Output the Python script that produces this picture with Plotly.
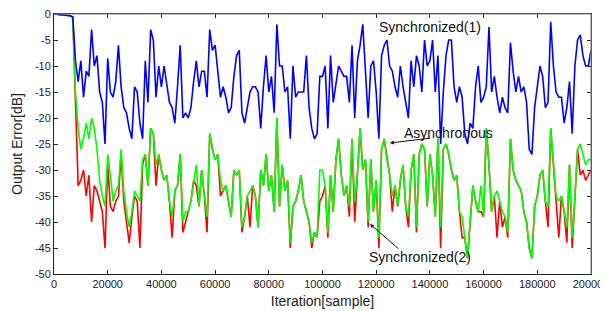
import plotly.graph_objects as go

# sample index grid (iterations, one point per 1000 samples)
iterations = list(range(0, 200001, 1000))

sync1 = [0, -0.05, -0.1, -0.15, -0.2, -0.25, -0.35, -0.6, -9, -13,
         -9, -16, -11, -12, -3, -10, -8, -15, -17, -25,
         -8.5, -15, -16, -13, -6, -14, -18, -19, -22, -24,
         -14, -15, -21, -24, -9, -17, -3, -5, -16, -10,
         -14, -10, -14, -17, -18, -21, -14, -6, -20, -19,
         -20, -18, -13, -9, -14, -11, -11, -16, -3, -7,
         -6, -11, -16, -14, -16, -19, -18, -12, -8, -7,
         -19, -21, -18, -15, -14, -14, -15, -22, -14, -8,
         -15, -12, -19, -2, -10, -10, -15, -14, -24, -10,
         -16, -15, -15, -15, -8, -18, -22, -24, -23, -12,
         -12, -10, -22, -8, -17, -13, -10, -11, -12, -12,
         -17, -6, -20, -9, -6, -2, -11, -20, -10, -9,
         -15, -24, -8, -6, -5, -10, -11, -14, -16, -10,
         -14, -17, -20, -9, -14, -8, -10, -15, -5, -10,
         -9, -5, -15, -8, -25, -15, -8, -5, -5, -14,
         -17, -14, -16, -23, -25, -21, -22, -14, -10, -17,
         -16, -14, -2.5, -15, -12, -16, -19, -16, -18, -19,
         -5.5, -11, -15, -12, -15, -14, -17, -26, -27, -18,
         -14, -10, -12, -18, -17, -1.5, -10, -15, -16, -16,
         -21, -18, -13, -23, -10, -5, -4, -8, -10, -10,
         -7]

asynchronous = [0, -0.05, -0.1, -0.15, -0.2, -0.25, -0.35, -0.6, -15, -22,
                -26, -24, -21, -24, -20, -22, -26, -32, -35, -37,
                -27, -31, -36, -34, -33, -26, -34, -38, -41, -38,
                -34, -35, -36, -28, -27, -33, -22, -23, -29, -27,
                -30, -32, -31, -36, -39, -34, -33, -27, -40, -38,
                -38, -36, -32, -29, -37, -30, -35, -39, -23, -26,
                -28, -27, -32, -34, -33, -36, -39, -30, -31, -30,
                -41, -39, -35, -34, -33, -35, -41, -30, -33, -27,
                -34, -31, -38, -20, -37, -29, -34, -32, -44, -37,
                -36, -34, -31, -36, -38, -40, -44, -42, -43, -30,
                -30, -33, -42, -31, -38, -28, -24, -31, -35, -33,
                -37, -24, -36, -31, -22, -30, -28, -40, -28, -38,
                -32, -43, -26, -24, -28, -31, -35, -33, -37, -32,
                -29, -37, -39, -30, -27, -41, -27, -25, -26, -37,
                -27, -31, -39, -24, -41, -26, -25, -27, -30, -32,
                -31, -38, -39, -43, -47, -40, -33, -36, -38, -33,
                -39, -22, -29, -38, -35, -34, -36, -38, -39, -42,
                -24, -30, -32, -33, -34, -38, -40, -45, -47, -37,
                -35, -31, -30, -36, -37, -22, -29, -35, -36, -35,
                -38, -41, -29, -43, -35, -26, -25, -27, -29, -28,
                -28]

sync2 = [0, -0.05, -0.1, -0.15, -0.2, -0.25, -0.35, -0.6, -17, -33,
         -32, -30, -35, -31, -40, -33, -34, -36, -38, -45,
         -29, -37, -38, -36, -35, -27, -36, -40, -44, -39,
         -35, -36, -45, -29, -27, -33, -22, -23, -33, -27,
         -30, -32, -31, -36, -43, -34, -33, -27, -42, -40,
         -38, -36, -32, -33, -37, -30, -35, -42, -23, -26,
         -28, -27, -35, -34, -33, -36, -39, -30, -31, -30,
         -42, -39, -35, -41, -33, -35, -41, -30, -33, -27,
         -34, -31, -38, -20, -37, -29, -34, -32, -45, -37,
         -36, -34, -31, -36, -38, -40, -45, -42, -43, -36,
         -35, -33, -43, -31, -38, -28, -24, -31, -35, -33,
         -39, -24, -40, -31, -22, -30, -28, -41, -28, -38,
         -32, -45, -26, -24, -28, -31, -38, -33, -37, -32,
         -29, -37, -41, -30, -27, -42, -27, -25, -26, -37,
         -27, -31, -39, -24, -45, -26, -25, -27, -30, -32,
         -31, -38, -43, -43, -47, -40, -33, -36, -38, -38,
         -39, -22, -29, -38, -35, -43, -36, -41, -39, -43,
         -24, -30, -32, -33, -34, -38, -40, -45, -47, -37,
         -35, -31, -30, -36, -41, -22, -29, -35, -43, -35,
         -38, -44, -29, -45, -35, -26, -31, -30, -32, -31,
         -30]

x_ticks = [0, 20000, 40000, 60000, 80000, 100000, 120000, 140000, 160000, 180000, 200000]
y_ticks = [0, -5, -10, -15, -20, -25, -30, -35, -40, -45, -50]

FONT = "Liberation Sans, Arial, Helvetica, sans-serif"

fig = go.Figure()
fig.add_trace(go.Scatter(x=iterations, y=sync2, mode="lines", name="Synchronized(2)",
                         line=dict(color="#ff0000", width=1.6)))
fig.add_trace(go.Scatter(x=iterations, y=asynchronous, mode="lines", name="Asynchronous",
                         line=dict(color="#00ff00", width=1.6)))
fig.add_trace(go.Scatter(x=iterations, y=sync1, mode="lines", name="Synchronized(1)",
                         line=dict(color="#0000ff", width=1.6)))

# page body adds an 8px offset, so the figure is sized/margined to compensate
fig.update_layout(
    width=600, height=303,
    margin=dict(l=46, r=17, t=6, b=37),
    paper_bgcolor="white", plot_bgcolor="white",
    showlegend=False,
    font=dict(family=FONT, size=11, color="#222"),
)
fig.update_xaxes(range=[0, 200001], tickvals=x_ticks, ticktext=[str(v) for v in x_ticks],
                 ticks="inside", ticklen=4, tickcolor="#222", showgrid=False, zeroline=False,
                 showline=True, linecolor="#222", linewidth=1, mirror="ticks",
                 automargin=False, ticklabeloverflow="allow",
                 title=dict(text="Iteration[sample]", font=dict(size=14), standoff=6))
fig.update_yaxes(range=[-50, 0], tickvals=y_ticks, ticktext=[str(v) for v in y_ticks],
                 ticks="inside", ticklen=4, tickcolor="#222", showgrid=False, zeroline=False,
                 showline=True, linecolor="#222", linewidth=1, mirror="ticks",
                 automargin=False, ticklabeloverflow="allow",
                 title=dict(text="Output Error[dB]", font=dict(size=14), standoff=8))

# lighter top / right frame lines
fig.add_shape(type="line", xref="paper", yref="paper", x0=0, x1=1, y0=1, y1=1,
              line=dict(color="#888", width=1.2), layer="above")
fig.add_shape(type="line", xref="paper", yref="paper", x0=1, x1=1, y0=0, y1=1,
              line=dict(color="#888", width=1.2), layer="above")

fig.add_annotation(x=140000, y=-2.5, text="Synchronized(1)", showarrow=False,
                   font=dict(size=14, color="#111"))
fig.add_annotation(x=147000, y=-22.8, text="Asynchronous", showarrow=False,
                   font=dict(size=14, color="#111"))
fig.add_annotation(x=125100, y=-24.8, ax=42, ay=-5, text="", showarrow=True,
                   arrowhead=2, arrowsize=0.8, arrowwidth=1, arrowcolor="#111")
fig.add_annotation(x=136300, y=-46.8, text="Synchronized(2)", showarrow=False,
                   font=dict(size=14, color="#111"))
fig.add_annotation(x=117700, y=-40.4, ax=30, ay=26, text="", showarrow=True,
                   arrowhead=2, arrowsize=0.8, arrowwidth=1, arrowcolor="#111")

fig.write_html("out.html")
